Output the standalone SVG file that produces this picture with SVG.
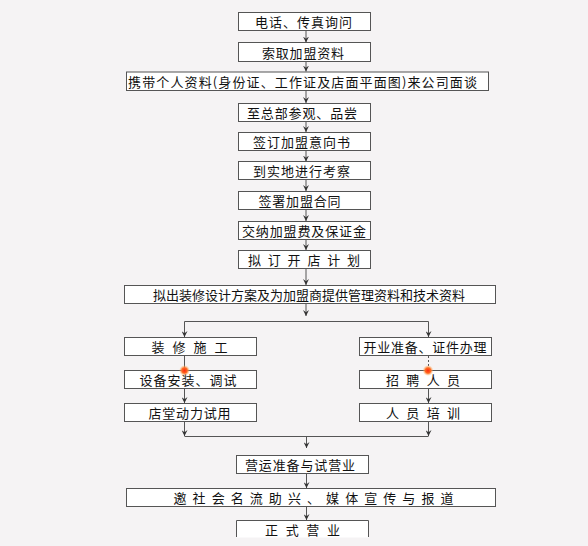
<svg xmlns="http://www.w3.org/2000/svg" width="588" height="546" viewBox="0 0 588 546">
<defs>
<style>
.bx{fill:#ffffff;stroke:#555555;stroke-width:1}
.t{font-family:"Noto Sans CJK SC","Liberation Sans",sans-serif;font-size:13px;fill:#111111;dominant-baseline:central}
.c{fill:none;stroke:#555555;stroke-width:1}
</style>
<marker id="a" viewBox="0 0 8 8" refX="8" refY="4" markerWidth="6" markerHeight="6" orient="auto" markerUnits="userSpaceOnUse">
<path d="M0,0 L8,4 L0,8 L3,4 Z" fill="#333333"/>
</marker>
<radialGradient id="dot">
<stop offset="0" stop-color="#ff2a10"/>
<stop offset="0.5" stop-color="#ff6a20"/>
<stop offset="1" stop-color="#ffcc80" stop-opacity="0"/>
</radialGradient>
</defs>
<rect width="588" height="546" fill="#f5f3f4"/>

<g id="connectors">
<line class="c" x1="306" y1="30.5" x2="306" y2="42.5" marker-end="url(#a)"/>
<line class="c" x1="306" y1="61.5" x2="306" y2="71.5" marker-end="url(#a)"/>
<line class="c" x1="306" y1="90.5" x2="306" y2="103" marker-end="url(#a)"/>
<line class="c" x1="306" y1="121.5" x2="306" y2="132" marker-end="url(#a)"/>
<line class="c" x1="306" y1="150.5" x2="306" y2="161.5" marker-end="url(#a)"/>
<line class="c" x1="306" y1="179.5" x2="306" y2="191" marker-end="url(#a)"/>
<line class="c" x1="306" y1="209.5" x2="306" y2="221" marker-end="url(#a)"/>
<line class="c" x1="306" y1="239.5" x2="306" y2="250" marker-end="url(#a)"/>
<line class="c" x1="306" y1="268.5" x2="306" y2="285" marker-end="url(#a)"/>
<line class="c" x1="306" y1="303.5" x2="306" y2="316" marker-end="url(#a)"/>
<polyline class="c" points="184.5,337 184.5,321.5 428.5,321.5 428.5,337"/>
<line class="c" x1="184.5" y1="322" x2="184.5" y2="337" marker-end="url(#a)"/>
<line class="c" x1="428.5" y1="322" x2="428.5" y2="337" marker-end="url(#a)"/>
<line class="c" x1="184.5" y1="356" x2="184.5" y2="370"/>
<line class="c" x1="428.5" y1="356" x2="428.5" y2="370" stroke-dasharray="2,2"/>
<line class="c" x1="184.5" y1="389" x2="184.5" y2="403" marker-end="url(#a)"/>
<line class="c" x1="428.5" y1="389" x2="428.5" y2="403" marker-end="url(#a)"/>
<line class="c" x1="184.5" y1="422" x2="184.5" y2="436" marker-end="url(#a)"/>
<line class="c" x1="428.5" y1="422" x2="428.5" y2="436" marker-end="url(#a)"/>
<line class="c" x1="184.5" y1="436.5" x2="428.5" y2="436.5"/>
<line class="c" x1="306.5" y1="436.5" x2="306.5" y2="448" marker-end="url(#a)"/>
<line class="c" x1="306.5" y1="473.5" x2="306.5" y2="488" marker-end="url(#a)"/>
<line class="c" x1="306.5" y1="507" x2="306.5" y2="520" marker-end="url(#a)"/>
</g>

<g id="n1"><rect class="bx" x="238.5" y="12.5" width="132" height="18"/><text class="t" x="303.5" y="21.5" text-anchor="middle" textLength="97" lengthAdjust="spacing">电话、传真询问</text></g>
<g id="n2"><rect class="bx" x="238.5" y="42.5" width="132" height="19"/><text class="t" x="303" y="52" text-anchor="middle" textLength="82" lengthAdjust="spacing">索取加盟资料</text></g>
<g id="n3"><rect class="bx" x="126.5" y="72" width="362" height="18.5"/><text class="t" x="302.5" y="81.5" text-anchor="middle" textLength="349" lengthAdjust="spacing">携带个人资料(身份证、工作证及店面平面图)来公司面谈</text></g>
<g id="n4"><rect class="bx" x="238.5" y="103.5" width="132" height="18"/><text class="t" x="302" y="112.5" text-anchor="middle" textLength="110" lengthAdjust="spacing">至总部参观、品尝</text></g>
<g id="n5"><rect class="bx" x="238.5" y="132.5" width="132" height="18"/><text class="t" x="301.5" y="141.5" text-anchor="middle" textLength="97" lengthAdjust="spacing">签订加盟意向书</text></g>
<g id="n6"><rect class="bx" x="238.5" y="161.5" width="132" height="18"/><text class="t" x="301.5" y="170.5" text-anchor="middle" textLength="97" lengthAdjust="spacing">到实地进行考察</text></g>
<g id="n7"><rect class="bx" x="238.5" y="191.5" width="132" height="18"/><text class="t" x="299.5" y="200.5" text-anchor="middle" textLength="82" lengthAdjust="spacing">签署加盟合同</text></g>
<g id="n8"><rect class="bx" x="238.5" y="221.5" width="132" height="18"/><text class="t" x="304" y="230.5" text-anchor="middle" textLength="124" lengthAdjust="spacing">交纳加盟费及保证金</text></g>
<g id="n9"><rect class="bx" x="238.5" y="250.5" width="132" height="18"/><text class="t" x="304" y="259.5" text-anchor="middle" textLength="112" lengthAdjust="spacing">拟订开店计划</text></g>
<g id="n10"><rect class="bx" x="124.5" y="285.5" width="371" height="18"/><text class="t" x="309" y="294.5" text-anchor="middle" textLength="312" lengthAdjust="spacing">拟出装修设计方案及为加盟商提供管理资料和技术资料</text></g>
<g id="n11"><rect class="bx" x="124.5" y="337.5" width="132" height="18"/><text class="t" x="189.5" y="346.5" text-anchor="middle" textLength="76" lengthAdjust="spacing">装修施工</text></g>
<g id="n12"><rect class="bx" x="124.5" y="370.5" width="132" height="18"/><text class="t" x="188" y="379.5" text-anchor="middle" textLength="97" lengthAdjust="spacing">设备安装、调试</text></g>
<g id="n13"><rect class="bx" x="124.5" y="403.5" width="132" height="18"/><text class="t" x="189.5" y="412.5" text-anchor="middle" textLength="82" lengthAdjust="spacing">店堂动力试用</text></g>
<g id="n14"><rect class="bx" x="359.5" y="337.5" width="132" height="18"/><text class="t" x="425" y="346.5" text-anchor="middle" textLength="123" lengthAdjust="spacing">开业准备、证件办理</text></g>
<g id="n15"><rect class="bx" x="359.5" y="370.5" width="132" height="18"/><text class="t" x="423" y="379.5" text-anchor="middle" textLength="74" lengthAdjust="spacing">招聘人员</text></g>
<g id="n16"><rect class="bx" x="359.5" y="403.5" width="132" height="18"/><text class="t" x="423" y="412.5" text-anchor="middle" textLength="74" lengthAdjust="spacing">人员培训</text></g>
<g id="n17"><rect class="bx" x="236.5" y="455.5" width="132" height="18"/><text class="t" x="300" y="464.5" text-anchor="middle" textLength="110" lengthAdjust="spacing">营运准备与试营业</text></g>
<g id="n18"><rect class="bx" x="126.5" y="488.5" width="369" height="18"/><text class="t" x="313.5" y="497.5" text-anchor="middle" textLength="280" lengthAdjust="spacing">邀社会名流助兴、媒体宣传与报道</text></g>
<g id="n19"><rect x="236.5" y="520.5" width="132" height="17" fill="#ffffff"/><polyline class="c" points="236.5,537 236.5,520.5 368.5,520.5 368.5,537"/><text class="t" x="302.5" y="529.5" text-anchor="middle" textLength="75" lengthAdjust="spacing">正式营业</text></g>

<g id="dots">
<circle cx="184.5" cy="370.5" r="5.5" fill="url(#dot)"/>
<circle cx="428" cy="370.5" r="5.5" fill="url(#dot)"/>
</g>
</svg>
